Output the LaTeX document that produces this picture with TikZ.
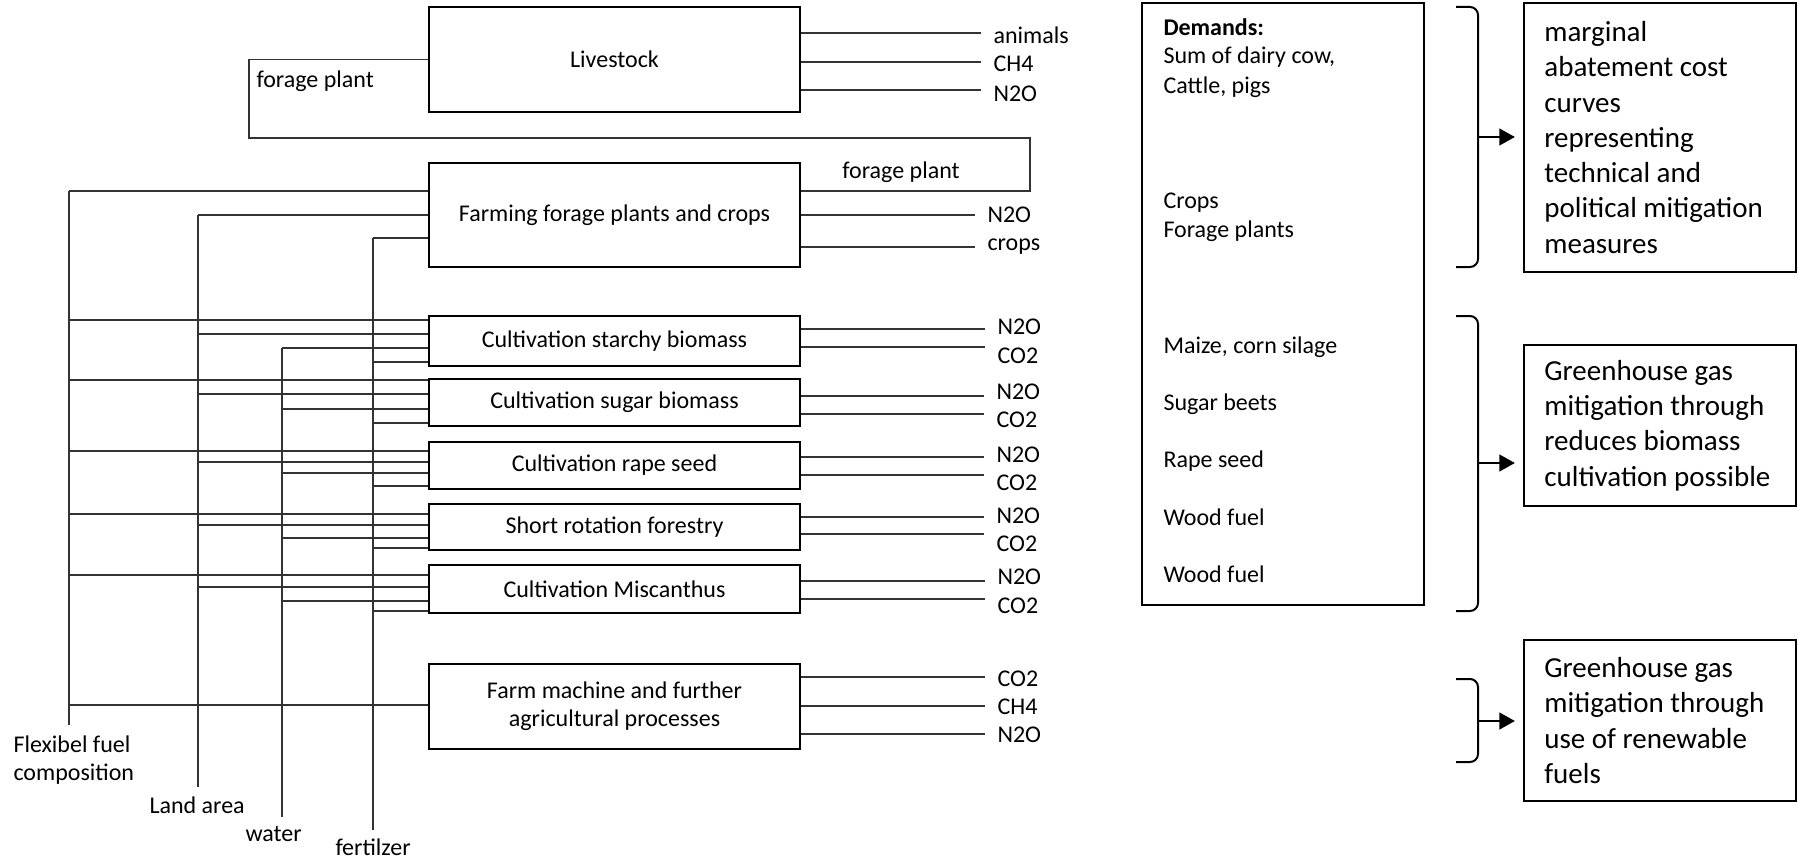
\documentclass[tikz,border=0pt]{standalone}
\usepackage{fontspec}
\setmainfont{Carlito}
\usetikzlibrary{arrows.meta}
\tikzset{
  pbox/.style={draw, line width=1.1pt, inner sep=0pt, minimum width=148.4pt, font=\fontsize{9.6}{11.2}\selectfont, align=center},
  rbox/.style={draw, line width=0.9pt, inner sep=0pt},
  conn/.style={draw=black!80, line width=0.45pt},
  lbl/.style={inner xsep=4.8pt, inner ysep=0pt, font=\fontsize{9.6}{11.5}\selectfont},
  dtxt/.style={inner sep=0pt, anchor=base west, font=\fontsize{9.6}{11.5}\selectfont},
  rtxt/.style={inner sep=0pt, anchor=west, align=left, font=\fontsize{11.6}{14.1}\selectfont},
  brk/.style={line width=0.8pt, rounded corners=3.2pt},
  arr/.style={line width=0.8pt, -{Triangle[length=6.2pt,width=6.7pt]}, shorten >=3.2pt},
}
\begin{document}
\begin{tikzpicture}[x=0.4pt, y=-0.4pt]
\useasboundingbox (0,0) rectangle (1798,859);

% process boxes
\node[pbox, minimum height=42pt]   (live)   at (614.5,59.5)  {Livestock};
\node[pbox, minimum height=41.6pt] (farm)   at (614.5,215)   {Farming forage plants and crops};
\node[pbox, minimum height=20pt]   (starch) at (614.5,341)   {Cultivation starchy biomass};
\node[pbox, minimum height=18.8pt] (sugar)  at (614.5,402.5) {Cultivation sugar biomass};
\node[pbox, minimum height=18.8pt] (rape)   at (614.5,465.5) {Cultivation rape seed};
\node[pbox, minimum height=18.4pt] (srf)    at (614.5,527)   {Short rotation forestry};
\node[pbox, minimum height=19.2pt] (misc)   at (614.5,589)   {Cultivation Miscanthus};
\node[pbox, minimum height=34pt]   (mach)   at (614.5,706.5) {Farm machine and further\\agricultural processes};

% forage plant loop
\coordinate (fpL) at (249,138);
\coordinate (fpR) at (1030,138);
\draw[conn] (live.west) -- (live.west -| fpL) -- (fpL) -- (fpR) -- (fpR |- 0,191) -- (farm.east |- 0,191);
\node[dtxt] (fpl1) at (256,88) {forage plant};
\node[inner sep=0pt, anchor=base, font=\fontsize{9.6}{11.5}\selectfont] (fpl2) at (901,178) {forage plant};

% outputs
\foreach \b/\y/\bl/\x/\txt in {
 live/33/44/981/animals, live/62/72/981/CH4, live/90/102/981/N2O,
 farm/215/222/975/N2O, farm/247/250/975/crops,
 starch/329/334/985/N2O, starch/347/363/985/CO2,
 sugar/396/399/984/N2O, sugar/414/427/984/CO2,
 rape/457/462/984/N2O, rape/475/490/984/CO2,
 srf/517/523/984/N2O, srf/534/551/984/CO2,
 misc/581/584/985/N2O, misc/599/613/985/CO2,
 mach/677/686/985/CO2, mach/706/714/985/CH4, mach/734/742/985/N2O}
{
  \node[lbl, anchor=base west] (\b-\y) at (\x,\bl) {\txt};
  \draw[conn] (\b.east |- 0,\y) -- (\b-\y.west |- 0,\y);
}

% input trunks
\coordinate (flexT) at (69,191);  \coordinate (flexB) at (69,725);
\coordinate (landT) at (198,215); \coordinate (landB) at (198,787);
\coordinate (watT)  at (282,348); \coordinate (watB)  at (282,817);
\coordinate (fertT) at (373,238); \coordinate (fertB) at (373,830);
\draw[conn] (flexT) -- (flexB);
\draw[conn] (landT) -- (landB);
\draw[conn] (watT) -- (watB);
\draw[conn] (fertT) -- (fertB);

\foreach \t/\b/\y in {flexT/farm/191, landT/farm/215, fertT/farm/238,
 flexT/starch/320, landT/starch/334, watT/starch/348, fertT/starch/362,
 flexT/sugar/380, landT/sugar/394, watT/sugar/409, fertT/sugar/423,
 flexT/rape/451, landT/rape/462, watT/rape/473, fertT/rape/486,
 flexT/srf/514, landT/srf/525, watT/srf/538, fertT/srf/548,
 flexT/misc/575, landT/misc/587, watT/misc/601, fertT/misc/611,
 flexT/mach/705}
{
  \draw[conn] (\t |- 0,\y) -- (\b.west |- 0,\y);
}

\node[dtxt] (flexl1) at (13,752) {Flexibel fuel};
\node[dtxt] (flexl2) at (13,780) {composition};
\node[dtxt] (landl) at (149,813) {Land area};
\node[dtxt] (watl) at (245,841) {water};
\node[dtxt] (fertl) at (335,855) {fertilzer};

% demands box
\node[rbox, line width=0.75pt, minimum width=112.8pt, minimum height=240.8pt] (dem) at (1283,304) {};
\node[dtxt, font=\fontsize{9.6}{11.5}\selectfont\bfseries] (d0) at (1163,36) {Demands:};
\node[dtxt] (d1) at (1163,64) {Sum of dairy cow,};
\node[dtxt] (d2) at (1163,94) {Cattle, pigs};
\node[dtxt] (d3) at (1163,208) {Crops};
\node[dtxt] (d4) at (1163,237) {Forage plants};
\node[dtxt] (d5) at (1163,353) {Maize, corn silage};
\node[dtxt] (d6) at (1163,410) {Sugar beets};
\node[dtxt] (d7) at (1163,467) {Rape seed};
\node[dtxt] (d8) at (1163,525) {Wood fuel};
\node[dtxt] (d9) at (1163,582) {Wood fuel};

% result boxes
\node[rbox, minimum width=108.8pt, minimum height=107.6pt] (m1) at (1660,137.5) {};
\node[rtxt] (m1t) at ([xshift=8.4pt]m1.west) {marginal\\abatement cost\\curves\\representing\\technical and\\political mitigation\\measures};
\node[rbox, minimum width=108.8pt, minimum height=64.4pt] (m2) at (1660,425.5) {};
\node[rtxt] (m2t) at ([xshift=8.4pt]m2.west) {Greenhouse gas\\mitigation through\\reduces biomass\\cultivation possible};
\node[rbox, minimum width=108.8pt, minimum height=64.4pt] (m3) at (1660,720.5) {};
\node[rtxt] (m3t) at ([xshift=8.4pt]m3.west) {Greenhouse gas\\mitigation through\\use of renewable\\fuels};

% brackets and arrows
\draw[brk] (1456,7) -| (1478,267) -- (1456,267);
\draw[brk] (1456,316) -| (1478,611) -- (1456,611);
\draw[brk] (1456,679) -| (1478,762) -- (1456,762);
\coordinate (b1) at (1478,137);
\coordinate (b2) at (1478,463);
\coordinate (b3) at (1478,721);
\draw[arr] (b1) -- (b1 -| m1.west);
\draw[arr] (b2) -- (b2 -| m2.west);
\draw[arr] (b3) -- (b3 -| m3.west);
\end{tikzpicture}
\end{document}
